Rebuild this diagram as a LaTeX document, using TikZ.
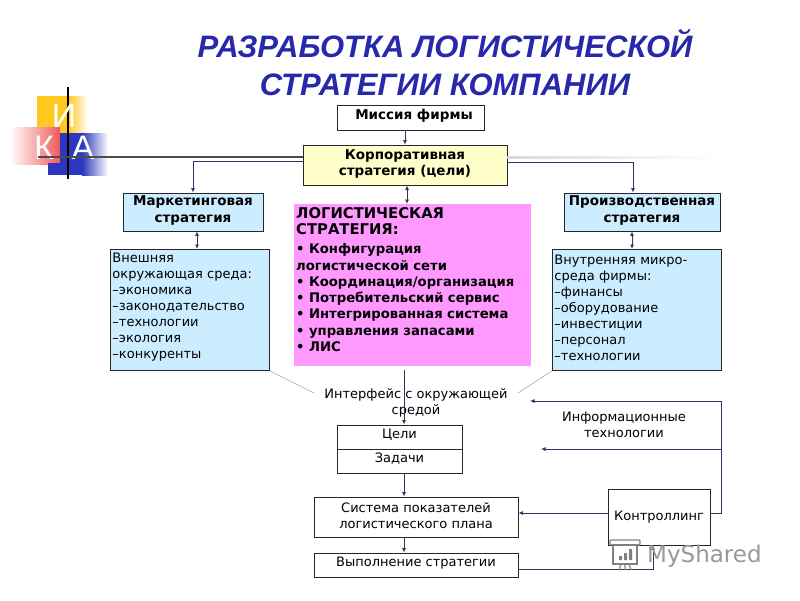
\documentclass[tikz,border=0pt]{standalone}
\usepackage{fontspec}
\setmainfont{DejaVu Sans}
\newfontfamily\titlefont{Liberation Sans}
\usepackage{tikz}
\usetikzlibrary{arrows.meta,calc}
\definecolor{titleblue}{RGB}{40,40,170}
\definecolor{linecol}{RGB}{55,50,95}
\definecolor{lightblue}{RGB}{204,236,255}
\definecolor{lightyellow}{RGB}{255,255,204}
\definecolor{pinkfill}{RGB}{255,153,255}
\definecolor{logoyellow}{RGB}{255,200,30}
\definecolor{logored}{RGB}{240,90,90}
\definecolor{logoblue}{RGB}{45,55,190}
\tikzset{
box/.style={draw=black!85,line width=0.9pt,fill=white,inner sep=1pt,align=center,text depth=6pt,font=\fontsize{13}{16}\selectfont},
boldbox/.style={box,font=\fontsize{13.5}{16.5}\selectfont\bfseries},
bluebox/.style={boldbox,fill=lightblue},
envbox/.style={draw=black!85,line width=0.9pt,fill=lightblue,inner sep=2pt,align=left,anchor=north west,font=\fontsize{13}{16}\selectfont},
plain/.style={inner sep=0pt,align=center,font=\fontsize{13}{16}\selectfont},
logotext/.style={inner sep=0pt,text=white,font=\titlefont\fontsize{34}{34}\selectfont},
arr/.style={draw=linecol,line width=0.8pt,-{Latex[length=4.5pt,width=4pt]}},
darr/.style={draw=linecol,line width=0.8pt,{Latex[length=4.5pt,width=4pt]}-{Latex[length=4.5pt,width=4pt]}},
con/.style={draw=linecol,line width=0.8pt},
}
\begin{document}
\begin{tikzpicture}[x=1pt,y=-1pt]
\useasboundingbox (0,0) rectangle (800,600);
\fill[white] (0,0) rectangle (800,600);

\fill[logoyellow] (37,96) rectangle (68,133);
\shade[left color=logoyellow,right color=white] (68,96) rectangle (88,133);
\shade[left color=white,right color=logored] (10,127) rectangle (60,164);
\fill[logoblue] (48,163) rectangle (62,175);
\fill[logoblue] (60,133) rectangle (82,175);
\shade[left color=logoblue,right color=white] (82,133) rectangle (108,175);
\draw[black,line width=1.6pt] (68,87) -- (68,179);

\node[inner sep=0pt,align=center,text=titleblue,font=\titlefont\fontsize{31}{38}\selectfont\bfseries\itshape] (title) at (445,63) {РАЗРАБОТКА ЛОГИСТИЧЕСКОЙ\\СТРАТЕГИИ КОМПАНИИ};
\node[logotext] (logoi) at (64,116) {И};
\node[logotext] (logok) at (44,148) {К};
\node[logotext] (logoa) at (83,148) {А};

\node[boldbox,minimum width=147pt,minimum height=25pt] (mission) at (410.5,117.5) {\hspace*{7pt}Миссия фирмы};
\node[boldbox,text depth=5pt,fill=lightyellow,minimum width=204pt,minimum height=40pt] (corp) at (405,165) {Корпоративная\\стратегия (цели)};
\node[bluebox,minimum width=140pt,minimum height=38pt] (market) at (193,212) {Маркетинговая\\стратегия};
\node[bluebox,minimum width=156pt,minimum height=38pt] (prod) at (642,212) {Производственная\\стратегия};

\node[anchor=north west,fill=pinkfill,minimum width=237pt,minimum height=162pt,inner sep=0pt] (logist) at (294,204) {};
\node[anchor=north west,inner sep=2pt,text width=233pt,align=left,font=\fontsize{13.2}{16.3}\selectfont\bfseries] (logisttext) at (294,205) {{\fontsize{14.8}{17}\selectfont ЛОГИСТИЧЕСКАЯ\\СТРАТЕГИЯ:}\\[3pt]• Конфигурация\\логистической сети\\• Координация/организация\\• Потребительский сервис\\• Интегрированная система\\• управления запасами\\• ЛИС};

\node[envbox,minimum width=159pt,minimum height=121pt,text width=155pt] (envleft) at (110,249) {Внешняя\\окружающая среда:\\–экономика\\–законодательство\\–технологии\\–экология\\–конкуренты\vspace{5pt}};
\node[envbox,minimum width=169pt,minimum height=121pt,text width=165pt] (envright) at (552,249) {Внутренняя микро-\\среда фирмы:\\–финансы\\–оборудование\\–инвестиции\\–персонал\\–технологии\vspace{5pt}};

\node[plain] (iface) at (416,403) {Интерфейс с окружающей\\средой};
\node[plain] (infotech) at (624,425) {Информационные\\технологии};

\node[box,minimum width=125pt,minimum height=24pt] (goals) at (399.5,437) {Цели};
\node[box,minimum width=125pt,minimum height=24pt] (tasks) at (399.5,461) {Задачи};
\node[box,text depth=3pt,minimum width=204pt,minimum height=40pt] (system) at (416,517) {Система показателей\\логистического плана};
\node[box,minimum width=204pt,minimum height=24pt] (exec) at (416,565) {Выполнение стратегии};
\node[box,text depth=3pt,minimum width=102pt,minimum height=56pt] (control) at (659,517) {Контроллинг};

\coordinate (busleft) at (38,157);
\coordinate (busright) at (720,157);
\coordinate (ifaceleft) at (314,393);
\coordinate (ifaceright) at (518,393);
\coordinate (turn) at (721,513);
\coordinate (fb) at (530,401);
\coordinate (fbb) at (541,449);
\coordinate (execturn) at (653,569);

\draw[black!70,line width=1.6pt] (busleft) -- (corp.west |- busleft);
\shade[left color=black!15,right color=white] (corp.east |- busright) ++(0,-1) rectangle ($(busright)+(0,1)$);
\draw[arr] (corp.west |- 0,161) -| (market.north);
\draw[arr] (corp.east |- 0,162) -| (prod.north -| 633,0);

\draw[arr] (mission.south -| corp.north) -- (corp.north);
\draw[darr] (corp.south -| 407,0) -- (logist.north -| 407,0);
\draw[darr] (market.south -| 197,0) -- (envleft.north -| 197,0);
\draw[darr] (prod.south -| 632,0) -- (envright.north -| 632,0);

\draw[black!35,line width=0.6pt] (envleft.south east) -- (ifaceleft);
\draw[black!35,line width=0.6pt] (envright.south west) -- (ifaceright);

\draw[arr] (404,370) -- (goals.north -| 404,0);
\draw[arr] (tasks.south -| 404,0) -- (system.north -| 404,0);
\draw[arr] (system.south -| 404,0) -- (exec.north -| 404,0);
\draw[arr] (control.west |- 0,513) -- (system.east |- 0,513);
\draw[con] (control.east |- turn) -- (turn) -- (turn |- fb);
\draw[arr] (turn |- fb) -- (fb);
\draw[arr] (turn |- fbb) -- (fbb);
\draw[arr] (exec.east |- execturn) -- (execturn) -- (execturn |- control.south);

\node[inner sep=0pt,text=black!40,anchor=west,font=\fontsize{23}{23}\selectfont] (watermark) at (647,556) {MyShared};
\draw[black!50,line width=1.3pt,rounded corners=1pt] (610,540) rectangle (640,545);
\draw[black!50,line width=1.3pt,fill=white,fill opacity=0.5] (613,545) rectangle (637,564);
\fill[black!50] (619,556) rectangle (622,560) (624,553) rectangle (627,560) (629,549) rectangle (632,560);
\draw[black!50,line width=1.1pt] (621,564) -- (619,570) (629,564) -- (631,570) (625,564) -- (625,570);
\end{tikzpicture}
\end{document}
